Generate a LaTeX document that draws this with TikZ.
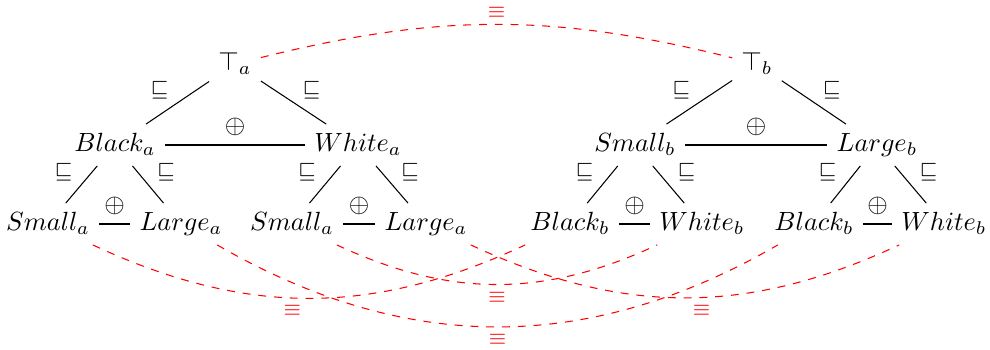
\documentclass[tikz,border=0pt]{standalone}
\begin{document}
\begin{tikzpicture}[x=0.38pt,y=-0.38pt,
  tn/.style={inner sep=3.33pt, text height=6.94pt, text depth=1.9pt},
  rel/.style={font=\footnotesize, yshift=-2.3pt},
  eqv/.style={draw=red, dashed},
  eqlab/.style={font=\footnotesize, text=red, inner sep=2.7pt}]
\useasboundingbox (0,0) rectangle (990,349);
% left tree
\node[tn] (ta) at (235,64) {$\top_a$};
\node[tn] (ba) at (115,145) {$Black_a$};
\node[tn] (wa) at (358,145) {$White_a$};
\node[tn] (sa1) at (48,224) {$Small_a$};
\node[tn] (la1) at (181,224) {$Large_a$};
\node[tn] (sa2) at (292,224) {$Small_a$};
\node[tn] (la2) at (426,224) {$Large_a$};
% right tree
\node[tn] (tb) at (757,64) {$\top_b$};
\node[tn] (sb) at (635,145) {$Small_b$};
\node[tn] (lb) at (877,145) {$Large_b$};
\node[tn] (bb1) at (570,224) {$Black_b$};
\node[tn] (wb1) at (702,224) {$White_b$};
\node[tn] (bb2) at (814,224) {$Black_b$};
\node[tn] (wb2) at (944,224) {$White_b$};
% edges left
\draw (ta) -- node[rel, above left] {$\sqsubseteq$} (ba);
\draw (ta) -- node[rel, above right] {$\sqsubseteq$} (wa);
\draw (ba) -- node[above] {$\oplus$} (wa);
\draw (ba) -- node[rel, above left] {$\sqsubseteq$} (sa1);
\draw (ba) -- node[rel, above right] {$\sqsubseteq$} (la1);
\draw (sa1) -- node[above] {$\oplus$} (la1);
\draw (wa) -- node[rel, above left] {$\sqsubseteq$} (sa2);
\draw (wa) -- node[rel, above right] {$\sqsubseteq$} (la2);
\draw (sa2) -- node[above] {$\oplus$} (la2);
% edges right
\draw (tb) -- node[rel, above left] {$\sqsubseteq$} (sb);
\draw (tb) -- node[rel, above right] {$\sqsubseteq$} (lb);
\draw (sb) -- node[above] {$\oplus$} (lb);
\draw (sb) -- node[rel, above left] {$\sqsubseteq$} (bb1);
\draw (sb) -- node[rel, above right] {$\sqsubseteq$} (wb1);
\draw (bb1) -- node[above] {$\oplus$} (wb1);
\draw (lb) -- node[rel, above left] {$\sqsubseteq$} (bb2);
\draw (lb) -- node[rel, above right] {$\sqsubseteq$} (wb2);
\draw (bb2) -- node[above] {$\oplus$} (wb2);
% equivalences
\draw[eqv] (ta) to[bend left=14] node[eqlab, above, inner sep=2.4pt] {$\equiv$} (tb);
\draw[eqv] (sa1) to[bend right=25] node[eqlab, below, pos=0.46] {$\equiv$} (bb1);
\draw[eqv] (la1) to[bend right=30] node[eqlab, below] {$\equiv$} (bb2);
\draw[eqv] (sa2) to[bend right=25] node[eqlab, below] {$\equiv$} (wb1);
\draw[eqv] (la2) to[bend right=25] node[eqlab, below, pos=0.54] {$\equiv$} (wb2);
\end{tikzpicture}
\end{document}
